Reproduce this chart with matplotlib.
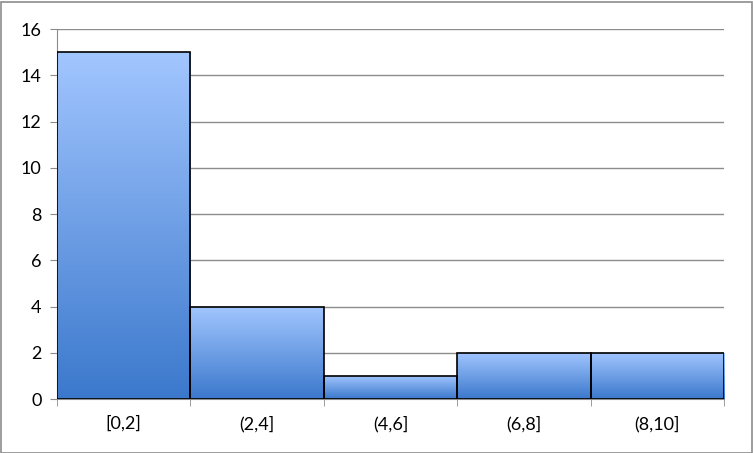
import matplotlib.pyplot as plt
import numpy as np
from matplotlib.colors import LinearSegmentedColormap
from matplotlib.patches import Rectangle

bins = ["[0,2]", "(2,4]", "(4,6]", "(6,8]", "(8,10]"]
counts = [15, 4, 1, 2, 2]

plt.rcParams['font.family'] = ['Lato', 'DejaVu Sans']

fig = plt.figure(figsize=(7.53, 4.53), dpi=100)
ax = fig.add_axes([57 / 753, 54 / 453, 667 / 753, 370 / 453])

# figure frame
fig.patches.append(Rectangle((0.5 / 753, 0.5 / 453), 751 / 753, 451 / 453,
                             transform=fig.transFigure, fill=False,
                             edgecolor='#8c8c8c', linewidth=1.2))

cmap = LinearSegmentedColormap.from_list('bar', ['#3b78cc', '#a2c6ff'])
grad = np.linspace(0, 1, 256).reshape(-1, 1)

bars = ax.bar(np.arange(len(bins)), counts, width=1.0, align='center',
              facecolor='none', edgecolor='black', linewidth=1.2, zorder=3)
for b in bars:
    x0, y0 = b.get_x(), b.get_y()
    w, h = b.get_width(), b.get_height()
    im = ax.imshow(grad, cmap=cmap, aspect='auto', origin='lower',
                   extent=[x0, x0 + w, y0, y0 + h], zorder=2)
    im.set_clip_path(b)

ax.set_xlim(-0.5, len(bins) - 0.5)
ax.set_ylim(0, 16)
ax.set_yticks(range(0, 17, 2))
ax.set_xticks(np.arange(len(bins)))
ax.set_xticklabels(bins)
ax.set_xticks(np.arange(len(bins) + 1) - 0.5, minor=True)

ax.yaxis.grid(True, color='#8c8c8c', linewidth=1)
ax.set_axisbelow(True)
for s in ['top', 'right']:
    ax.spines[s].set_visible(False)
ax.spines['left'].set_color('#8c8c8c')
ax.spines['bottom'].set_color('#8c8c8c')

ax.tick_params(axis='x', which='major', length=0, labelsize=13, pad=12)
ax.tick_params(axis='x', which='minor', length=5, color='#8c8c8c')
ax.tick_params(axis='y', length=5, color='#8c8c8c', labelsize=13, pad=6)

fig.savefig('out.png', dpi=100)
